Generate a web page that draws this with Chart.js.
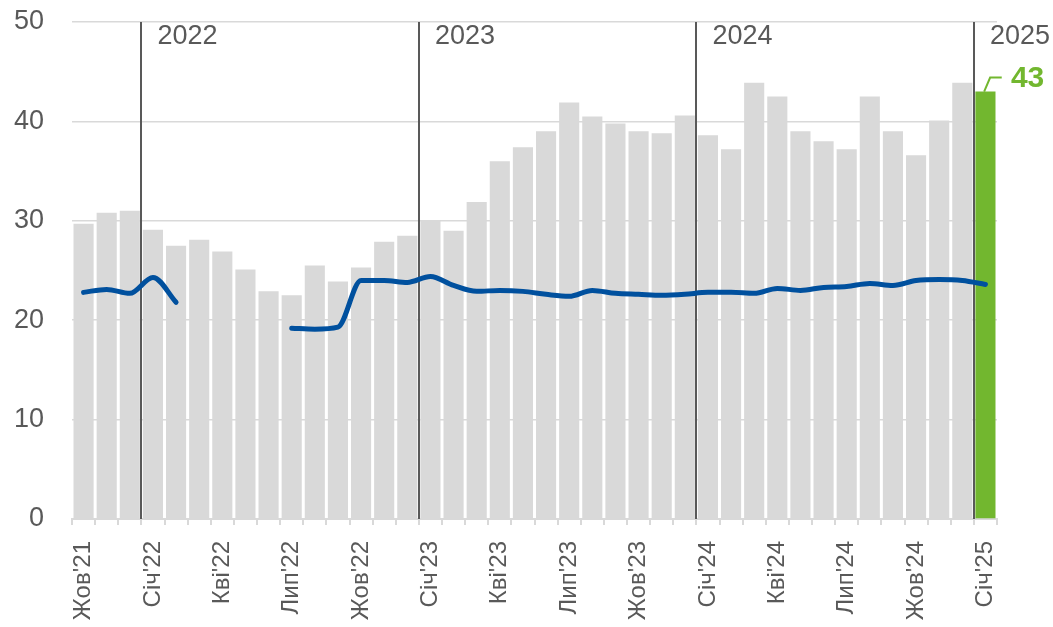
<!DOCTYPE html>
<html>
<head>
<meta charset="utf-8">
<script src="https://cdn.jsdelivr.net/npm/chart.js@4.4.1/dist/chart.umd.min.js"></script>
<style>
    html, body { margin: 0; padding: 0; background: #fff; }
    #wrap { width: 1053px; height: 627px; position: relative; }
</style>
</head>
<body>
<div id="wrap"><canvas id="chart"></canvas></div>
<script>
// months Oct'21 .. Jan'25
const months = [
    "Жов'21", "Лис'21", "Гру'21",
    "Січ'22", "Лют'22", "Бер'22", "Кві'22", "Тра'22", "Чер'22", "Лип'22", "Сер'22", "Вер'22", "Жов'22", "Лис'22", "Гру'22",
    "Січ'23", "Лют'23", "Бер'23", "Кві'23", "Тра'23", "Чер'23", "Лип'23", "Сер'23", "Вер'23", "Жов'23", "Лис'23", "Гру'23",
    "Січ'24", "Лют'24", "Бер'24", "Кві'24", "Тра'24", "Чер'24", "Лип'24", "Сер'24", "Вер'24", "Жов'24", "Лис'24", "Гру'24",
    "Січ'25"
];

const barValues = [
    29.7, 30.8, 31.0,
    29.1, 27.5, 28.1, 26.9, 25.1, 22.9, 22.5, 25.5, 23.9, 25.3, 27.9, 28.5,
    30.0, 29.0, 31.9, 36.0, 37.4, 39.0, 41.9, 40.5, 39.8, 39.0, 38.8, 40.6,
    38.6, 37.2, 43.9, 42.5, 39.0, 38.0, 37.2, 42.5, 39.0, 36.6, 40.1, 43.9,
    43.0
];

const lineValues = [
    22.8, 23.1, 22.7,
    24.3, 21.8, null, null, null, null, 19.2, 19.1, 19.3, 24.0, 24.0, 23.8,
    24.4, 23.5, 22.9, 23.0, 22.9, 22.6, 22.4, 23.0, 22.7, 22.6, 22.5, 22.6,
    22.8, 22.8, 22.7, 23.2, 23.0, 23.3, 23.4, 23.7, 23.5, 24.0, 24.1, 24.0,
    23.6
];

// year separators: label and index of first month of that year
const yearMarks = [
    { label: '2022', index: 3 },
    { label: '2023', index: 15 },
    { label: '2024', index: 27 },
    { label: '2025', index: 39 }
];

const yTicks = [0, 10, 20, 30, 40, 50];

const GREY_BAR = '#d9d9d9';
const GREEN = '#72b72f';
const BLUE = '#00509e';
const TEXT = '#595959';
const FONT = '"Liberation Sans", Arial, sans-serif';

const barColors = barValues.map((v, i) => i === barValues.length - 1 ? GREEN : GREY_BAR);

const yearLinesPlugin = {
    id: 'yearLines',
    beforeDatasetsDraw(chart) {
        const { ctx, chartArea, scales } = chart;
        const x = scales.x;
        ctx.save();
        ctx.strokeStyle = '#595959';
        ctx.lineWidth = 2;
        yearMarks.forEach(m => {
            const px = Math.round((x.getPixelForValue(m.index - 1) + x.getPixelForValue(m.index)) / 2);
            ctx.beginPath();
            ctx.moveTo(px, chartArea.top);
            ctx.lineTo(px, chartArea.bottom);
            ctx.stroke();
        });
        ctx.restore();
    },
    afterDraw(chart) {
        const { ctx, chartArea, scales } = chart;
        const x = scales.x;
        ctx.save();
        ctx.fillStyle = TEXT;
        ctx.font = '27px ' + FONT;
        ctx.textAlign = 'left';
        ctx.textBaseline = 'middle';
        yearMarks.forEach(m => {
            const px = (x.getPixelForValue(m.index - 1) + x.getPixelForValue(m.index)) / 2;
            ctx.fillText(m.label, px + 16, chartArea.top + 15);
        });

        // callout for last bar
        const meta = chart.getDatasetMeta(0);
        const bar = meta.data[meta.data.length - 1];
        const bx = bar.x;
        const by = bar.y;
        ctx.strokeStyle = GREEN;
        ctx.lineWidth = 2;
        ctx.beginPath();
        ctx.moveTo(bx - 1.3, by);
        ctx.lineTo(bx + 4.7, by - 14);
        ctx.lineTo(bx + 16.3, by - 14);
        ctx.stroke();
        ctx.fillStyle = GREEN;
        ctx.font = 'bold 30px ' + FONT;
        ctx.fillText(Math.round(barValues[barValues.length - 1]).toString(), bx + 25.5, by - 13);
        ctx.restore();
    }
};

new Chart(document.getElementById('chart'), {
    type: 'bar',
    data: {
        labels: months,
        datasets: [
            {
                type: 'bar',
                data: barValues,
                backgroundColor: barColors,
                barPercentage: 0.87,
                categoryPercentage: 1,
                order: 2
            },
            {
                type: 'line',
                data: lineValues,
                borderColor: BLUE,
                borderWidth: 5,
                borderCapStyle: 'round',
                borderJoinStyle: 'round',
                pointRadius: 0,
                tension: 0.4,
                cubicInterpolationMode: 'monotone',
                spanGaps: false,
                order: 1
            }
        ]
    },
    options: {
        responsive: true,
        maintainAspectRatio: false,
        animation: false,
        layout: { padding: { top: 22, right: 56, left: 0, bottom: 0 } },
        plugins: {
            legend: { display: false },
            tooltip: { enabled: false }
        },
        scales: {
            x: {
                offset: true,
                grid: {
                    offset: true,
                    drawOnChartArea: false,
                    drawTicks: true,
                    tickLength: 6,
                    color: GREY_BAR,
                    lineWidth: 2
                },
                border: { display: true, color: GREY_BAR, width: 2 },
                ticks: {
                    autoSkip: false,
                    maxRotation: 90,
                    minRotation: 90,
                    padding: 16,
                    color: TEXT,
                    font: { size: 24, family: FONT },
                    callback: function (val, idx) {
                        return idx % 3 === 0 ? this.getLabelForValue(val) : '';
                    }
                },
                afterFit(scale) {
                    scale.height = 108;
                    scale.paddingLeft = 0;
                    scale.paddingRight = 0;
                }
            },
            y: {
                min: 0,
                max: 50,
                afterBuildTicks(scale) {
                    scale.ticks = yTicks.map(v => ({ value: v }));
                },
                grid: {
                    color: GREY_BAR,
                    lineWidth: 1.5,
                    drawTicks: false
                },
                border: { display: false },
                ticks: {
                    padding: 28,
                    color: TEXT,
                    font: { size: 27, family: FONT }
                },
                afterFit(scale) {
                    scale.width = 72;
                    scale.paddingTop = 0;
                    scale.paddingBottom = 0;
                }
            }
        }
    },
    plugins: [yearLinesPlugin]
});
</script>
</body>
</html>
